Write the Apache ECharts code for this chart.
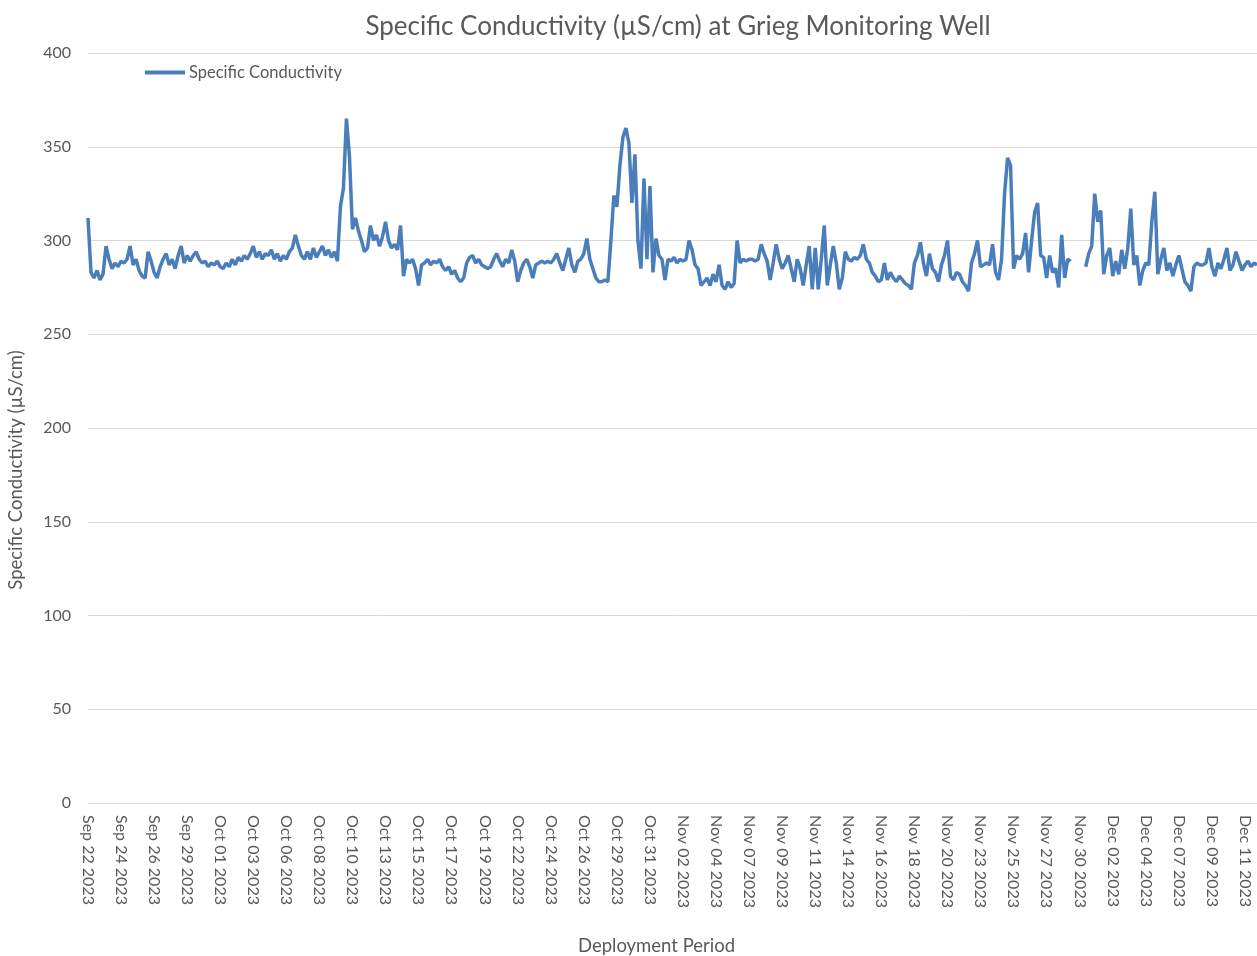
<!DOCTYPE html>
<html>
<head>
<meta charset="utf-8">
<script src="https://cdn.jsdelivr.net/npm/echarts@6/dist/echarts.min.js"></script>
<style>
html,body{margin:0;padding:0;background:#fff;}
#chart{width:1257px;height:956px;}
</style>
</head>
<body>
<div id="chart"></div>
<script>
// Readings every 5 hours starting Sep 22 2023 09:00 (null = logger gap)
var startTime = "2023-09-22T09:00:00Z";
var stepHours = 5;
var conductivity = [
312,283,280,284,279,282,297,290,285,288,286,289,288,290,297,287,290,284,281,280,
294,289,283,280,286,290,293,287,290,285,292,297,288,292,289,292,294,290,288,289,
286,288,287,289,286,285,288,286,290,287,291,289,292,290,293,297,291,294,290,293,
292,295,290,293,289,292,290,294,296,303,297,292,290,294,290,296,291,294,297,292,
295,291,294,289,318,328,365,345,306,312,305,300,294,296,308,300,303,297,302,310,
300,296,298,295,308,281,290,288,290,285,276,287,288,290,287,289,288,290,286,284,
286,282,284,280,278,280,288,291,292,288,290,287,286,285,286,290,293,289,286,290,
288,295,289,278,284,288,290,286,280,287,288,289,288,289,288,290,293,288,284,290,
296,287,283,289,290,293,301,290,285,280,278,278,279,278,300,324,318,340,355,360,
352,320,346,300,285,333,290,329,283,301,292,290,279,290,289,291,288,290,289,290,
300,295,287,285,276,278,280,276,282,278,287,276,274,278,275,277,300,288,290,289,
290,290,289,290,298,293,289,279,288,298,290,285,288,292,285,278,290,285,276,287,
297,274,296,274,290,308,276,287,297,288,274,280,294,290,289,291,290,292,298,290,
288,283,281,278,279,288,279,283,280,278,281,279,277,276,274,288,292,299,288,281,
293,285,283,278,287,292,300,281,279,283,282,278,276,273,288,293,300,286,287,288,
287,298,283,279,290,325,344,340,285,292,290,293,304,283,300,315,320,292,291,280,
292,283,285,275,303,280,290,289,null,null,null,null,286,293,297,325,310,316,282,292,
296,281,289,282,295,285,296,317,287,292,276,284,288,287,310,326,282,290,296,284,
288,281,287,292,285,278,276,273,286,288,287,287,288,296,286,281,288,285,290,296,
284,287,294,289,284,287,289,286,288,287
];
var tickLabels = [
"Sep 22 2023","Sep 24 2023","Sep 26 2023","Sep 29 2023","Oct 01 2023","Oct 03 2023",
"Oct 06 2023","Oct 08 2023","Oct 10 2023","Oct 13 2023","Oct 15 2023","Oct 17 2023",
"Oct 19 2023","Oct 22 2023","Oct 24 2023","Oct 26 2023","Oct 29 2023","Oct 31 2023",
"Nov 02 2023","Nov 04 2023","Nov 07 2023","Nov 09 2023","Nov 11 2023","Nov 14 2023",
"Nov 16 2023","Nov 18 2023","Nov 20 2023","Nov 23 2023","Nov 25 2023","Nov 27 2023",
"Nov 30 2023","Dec 02 2023","Dec 04 2023","Dec 07 2023","Dec 09 2023","Dec 11 2023"
];
var yTicks = [0, 50, 100, 150, 200, 250, 300, 350, 400];
var labelEvery = 11; // one date label per 55 hours

var t0 = Date.parse(startTime);
var categories = conductivity.map(function (v, i) {
  return new Date(t0 + i * stepHours * 3600000).toISOString().slice(0, 16).replace("T", " ");
});

var FONT = "Lato, 'Open Sans', sans-serif";
var GREY = "#595959";
var chart = echarts.init(document.getElementById("chart"), null, {renderer: "canvas"});
chart.setOption({
  animation: false,
  backgroundColor: "#ffffff",
  title: {
    text: "Specific Conductivity (µS/cm) at Grieg Monitoring Well",
    left: 673, top: 9, textAlign: "center",
    textStyle: {fontFamily: FONT, fontSize: 26, fontWeight: "normal", color: GREY}
  },
  legend: {
    left: 140, top: 59,
    icon: "rect", itemWidth: 40, itemHeight: 4, itemGap: 10,
    textStyle: {fontFamily: FONT, fontSize: 16.5, color: GREY, padding: [0, 0, 0, -1]},
    data: ["Specific Conductivity"]
  },
  grid: {left: 88, right: 0, top: 53, bottom: 153, containLabel: false, outerBoundsMode: "none"},
  xAxis: {
    type: "category",
    data: categories,
    boundaryGap: false,
    name: "Deployment Period",
    nameLocation: "middle",
    nameGap: 134,
    nameTextStyle: {fontFamily: FONT, fontSize: 18.5, color: GREY, padding: [0, 32, 0, 0]},
    axisLine: {lineStyle: {color: "#d9d9d9", width: 1}},
    axisTick: {show: false},
    axisLabel: {
      interval: labelEvery - 1,
      rotate: -90,
      margin: 12,
      fontFamily: FONT, fontSize: 16, color: GREY,
      formatter: function (v, idx) { return tickLabels[Math.round(idx / labelEvery)] || ""; }
    },
    splitLine: {show: false}
  },
  yAxis: {
    type: "value",
    min: yTicks[0], max: yTicks[yTicks.length - 1], interval: 50,
    name: "Specific Conductivity (µS/cm)",
    nameLocation: "middle",
    nameGap: 62,
    nameTextStyle: {fontFamily: FONT, fontSize: 18.5, color: GREY, padding: [0, 84, 0, 0]},
    axisLine: {show: false},
    axisTick: {show: false},
    axisLabel: {fontFamily: FONT, fontSize: 16, color: GREY, margin: 17},
    splitLine: {lineStyle: {color: "#d9d9d9", width: 1}}
  },
  series: [{
    name: "Specific Conductivity",
    type: "line",
    data: conductivity,
    showSymbol: false,
    connectNulls: false,
    lineStyle: {color: "#4a7ebb", width: 3.5},
    itemStyle: {color: "#4a7ebb"}
  }]
});
</script>
</body>
</html>
